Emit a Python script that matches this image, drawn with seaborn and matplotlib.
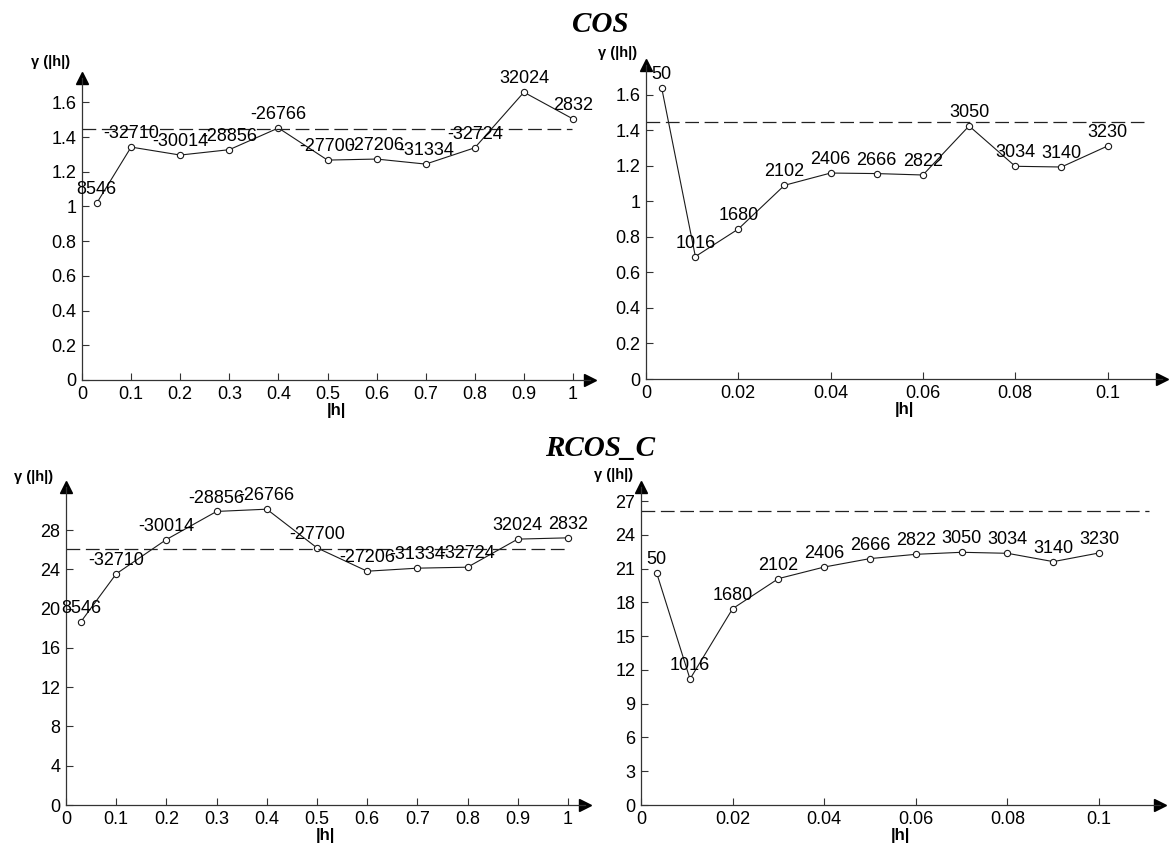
import matplotlib
matplotlib.use("Agg")
import matplotlib.pyplot as plt
import seaborn as sns
import numpy as np
import pandas as pd
from matplotlib.ticker import FuncFormatter

# ---------------- data ----------------
h_long = [0.03, 0.1, 0.2, 0.3, 0.4, 0.5, 0.6, 0.7, 0.8, 0.9, 1.0]
h_short = [0.0034, 0.0107, 0.02, 0.03, 0.04, 0.05, 0.06, 0.07, 0.08, 0.09, 0.1]

labels_long = ["8546", "-32710", "-30014", "-28856", "-26766", "-27700",
               "-27206", "-31334", "-32724", "32024", "2832"]
labels_short = ["50", "1016", "1680", "2102", "2406", "2666", "2822",
                "3050", "3034", "3140", "3230"]

cos_long = [1.019, 1.342, 1.296, 1.327, 1.452, 1.267, 1.273, 1.244, 1.338, 1.658, 1.504]
cos_short = [1.638, 0.689, 0.844, 1.090, 1.159, 1.156, 1.148, 1.424, 1.197, 1.193, 1.311]
rcos_long = [18.69, 23.55, 27.05, 29.91, 30.14, 26.20, 23.82, 24.13, 24.23, 27.09, 27.22]
rcos_short = [20.64, 11.19, 17.44, 20.11, 21.14, 21.89, 22.27, 22.45, 22.36, 21.62, 22.39]

sill_cos = 1.445
sill_rcos = 26.1

titles = ["COS", "RCOS_C"]
ylabel = "γ (|h|)"
xlabel = "|h|"

# ---------------- style ----------------
sns.set_theme(style="white")
plt.rcParams["font.family"] = ["Liberation Sans", "DejaVu Sans"]
plt.rcParams["text.color"] = "black"
plt.rcParams["axes.labelcolor"] = "black"

W, H = 1169, 857
fig = plt.figure(figsize=(W / 100, H / 100), dpi=100)

def px_axes(left, top, right, bottom):
    return fig.add_axes([left / W, 1 - bottom / H, (right - left) / W, (bottom - top) / H])

panels = [
    dict(box=(82, 78, 590, 380), x=h_long, y=cos_long, lab=labels_long, xmax=1.0346, ymax=1.74,
         xt=np.round(np.arange(0, 1.01, 0.1), 2), yt=np.round(np.arange(0, 1.61, 0.2), 2),
         sill=sill_cos, send=0.997, ylp=(-0.061, 1.053)),
    dict(box=(646, 65, 1162, 379), x=h_short, y=cos_short, lab=labels_short, xmax=0.1118, ymax=1.767,
         xt=np.round(np.arange(0, 0.101, 0.02), 3), yt=np.round(np.arange(0, 1.61, 0.2), 2),
         sill=sill_cos, send=0.108, ylp=(-0.056, 1.038)),
    dict(box=(66, 487, 585, 805), x=h_long, y=rcos_long, lab=labels_long, xmax=1.034, ymax=32.4,
         xt=np.round(np.arange(0, 1.01, 0.1), 2), yt=np.arange(0, 29, 4),
         sill=sill_rcos, send=0.996, ylp=(-0.062, 1.031)),
    dict(box=(641, 487, 1160, 805), x=h_short, y=rcos_short, lab=labels_short, xmax=0.1133, ymax=28.25,
         xt=np.round(np.arange(0, 0.101, 0.02), 3), yt=np.arange(0, 28, 3),
         sill=sill_rcos, send=0.111, ylp=(-0.052, 1.038)),
]

fmt = FuncFormatter(lambda v, p: "%g" % v)
ink = "#1a1a1a"

for p in panels:
    ax = px_axes(*p["box"])
    ax.set_facecolor("white")
    df = pd.DataFrame({"h": p["x"], "g": p["y"]})
    sns.lineplot(data=df, x="h", y="g", ax=ax, sort=False, color=ink, linewidth=0.8,
                 marker="o", markersize=4.5, markerfacecolor="white",
                 markeredgecolor=ink, markeredgewidth=0.8)
    ax.hlines(p["sill"], 0, p["send"], colors="#222222", linestyles=(0, (11, 4.5)), linewidth=0.9)
    for xi, yi, t in zip(p["x"], p["y"], p["lab"]):
        ax.annotate(t, (xi, yi), xytext=(0, 3.5), textcoords="offset points",
                    ha="center", va="bottom", fontsize=13, color="black", annotation_clip=False)
    ax.set_xlim(0, p["xmax"])
    ax.set_ylim(0, p["ymax"])
    ax.set_xticks(p["xt"])
    ax.set_yticks(p["yt"])
    ax.xaxis.set_major_formatter(fmt)
    ax.yaxis.set_major_formatter(fmt)
    ax.tick_params(direction="in", length=5, width=0.8, colors="#333333",
                   labelcolor="black", labelsize=13, pad=4, bottom=True, left=True)
    for s in ["top", "right"]:
        ax.spines[s].set_visible(False)
    for s in ["left", "bottom"]:
        ax.spines[s].set_color("#333333")
        ax.spines[s].set_linewidth(0.9)
    ax.plot(1, 0, ">", color="black", markersize=9, transform=ax.get_yaxis_transform(), clip_on=False)
    ax.plot(0, 1, "^", color="black", markersize=9, transform=ax.get_xaxis_transform(), clip_on=False)
    ax.set_xlabel(xlabel, fontsize=12, fontweight="bold", labelpad=0)
    ax.set_ylabel("")
    ax.text(p["ylp"][0], p["ylp"][1], ylabel, transform=ax.transAxes, ha="center", va="center",
            fontsize=10.5, fontweight="bold")

fig.text(600 / W, 1 - 24 / H, titles[0], ha="center", va="center", fontsize=21,
         fontweight="bold", fontstyle="italic", family=["Liberation Serif", "DejaVu Serif"])
fig.text(600 / W, 1 - 449 / H, titles[1], ha="center", va="center", fontsize=21,
         fontweight="bold", fontstyle="italic", family=["Liberation Serif", "DejaVu Serif"])

fig.savefig("out.png", dpi=100, facecolor="white")
